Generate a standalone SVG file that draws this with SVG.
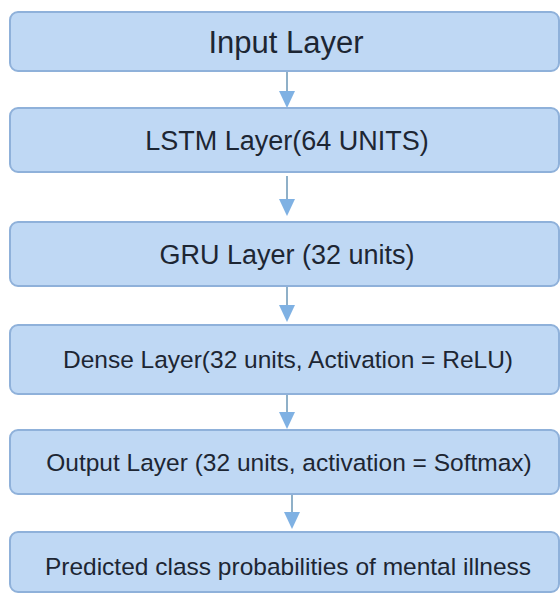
<svg xmlns="http://www.w3.org/2000/svg" width="560" height="593" viewBox="0 0 560 593">
<style>
.box{fill:#bfd8f4;stroke:#8fb1da;stroke-width:2}
.lbl{font-family:"Liberation Sans",Arial,sans-serif;fill:#1d2633;text-anchor:middle}
.edge{stroke:#8fb0c8;stroke-width:2;fill:none}
</style>
<defs>
<marker id="ah" viewBox="0 0 16 17" refX="8" refY="17" markerWidth="16" markerHeight="17" markerUnits="userSpaceOnUse" orient="auto-start-reverse">
<path d="M0,0 L16,0 L8,17 Z" fill="#7fb1e3"/>
</marker>
</defs>
<rect width="560" height="593" fill="#ffffff"/>
<g id="edges">
<path class="edge" d="M287,71 V92"/><path d="M279,91 L295,91 L287,108 Z" fill="#7fb1e3"/>
<path class="edge" d="M287,176 V200"/><path d="M279,199 L295,199 L287,216 Z" fill="#7fb1e3"/>
<path class="edge" d="M287,286 V306"/><path d="M279,305 L295,305 L287,322 Z" fill="#7fb1e3"/>
<path class="edge" d="M287,394 V413"/><path d="M279,412 L295,412 L287,429 Z" fill="#7fb1e3"/>
<path class="edge" d="M292,494 V513"/><path d="M284,512 L300,512 L292,529 Z" fill="#7fb1e3"/>
</g>
<g id="input">
<rect class="box" x="10" y="12" width="549" height="59" rx="8"/>
<text class="lbl" x="286" y="53" font-size="31">Input Layer</text>
</g>
<g id="lstm">
<rect class="box" x="10" y="108" width="549" height="64" rx="8"/>
<text class="lbl" x="287" y="150" font-size="27">LSTM Layer(64 UNITS)</text>
</g>
<g id="gru">
<rect class="box" x="10" y="222" width="549" height="64" rx="8"/>
<text class="lbl" x="287" y="264" font-size="27">GRU Layer (32 units)</text>
</g>
<g id="dense">
<rect class="box" x="10" y="325" width="549" height="69" rx="8"/>
<text class="lbl" x="288" y="368" font-size="24.5">Dense Layer(32 units, Activation = ReLU)</text>
</g>
<g id="output">
<rect class="box" x="10" y="430" width="549" height="64" rx="8"/>
<text class="lbl" x="289" y="471" font-size="24.5">Output Layer (32 units, activation = Softmax)</text>
</g>
<g id="predicted">
<rect class="box" x="10" y="532" width="549" height="60" rx="8"/>
<text class="lbl" x="288" y="575" font-size="24.5">Predicted class probabilities of mental illness</text>
</g>
</svg>
